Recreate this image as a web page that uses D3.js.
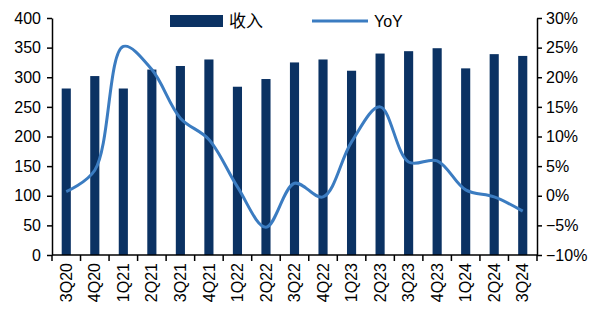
<!DOCTYPE html>
<html><head><meta charset="utf-8">
<script src="https://cdn.jsdelivr.net/npm/d3@7"></script>
<style>
body{margin:0;background:#fff;}
text{font-family:"Liberation Sans",Arial,sans-serif;fill:#000;}
</style></head>
<body><svg id="c" width="589" height="323"></svg>
<script>
const categories = ["3Q20","4Q20","1Q21","2Q21","3Q21","4Q21","1Q22","2Q22","3Q22","4Q22","1Q23","2Q23","3Q23","4Q23","1Q24","2Q24","3Q24"];
const revenue = [281,302,281,313,319,330,284,297,325,330,311,340,344,349,315,339,336];
const yoy = [0.7,4.3,25.2,21.3,13.1,9.5,1.5,-5.3,2.1,-0.2,9.1,15.0,5.7,5.9,1.0,-0.2,-2.6];
const leftTicks = [0,50,100,150,200,250,300,350,400];
const rightTicks = [-10,-5,0,5,10,15,20,25,30];
const seriesNames = ["收入","YoY"];

const barColor = "#0b3263", lineColor = "#3b7cc1";
const svg = d3.select("#c");
const L = 52, R = 537, T = 18, B = 255;

const x = d3.scaleBand().domain(categories).range([L, R]).paddingInner(0.68).paddingOuter(0.34);
const yl = d3.scaleLinear().domain([0, 400]).range([B, T]);
const yr = d3.scaleLinear().domain([-10, 30]).range([B, T]);

// bars
svg.append("g").selectAll("rect").data(categories).join("rect")
  .attr("x", d => x(d)).attr("width", x.bandwidth())
  .attr("y", (d,i) => yl(revenue[i])).attr("height", (d,i) => B - yl(revenue[i]))
  .attr("fill", barColor);

// line
const line = d3.line().x((d,i) => x(categories[i]) + x.bandwidth()/2).y(d => yr(d)).curve(d3.curveCatmullRom.alpha(0.5));
svg.append("path").datum(yoy).attr("d", line).attr("fill","none").attr("stroke", lineColor).attr("stroke-width", 3);

// left axis
const gl = svg.append("g").attr("transform", `translate(${L},0)`)
  .call(d3.axisLeft(yl).tickValues(leftTicks).tickSize(5).tickSizeOuter(0).tickPadding(6));
// right axis
const gr = svg.append("g").attr("transform", `translate(${R},0)`)
  .call(d3.axisRight(yr).tickValues(rightTicks).tickSize(5).tickSizeOuter(0).tickPadding(4).tickFormat(d => (d < 0 ? "\u2212" + Math.abs(d) : d) + "%"));
[gl, gr].forEach(g => {
  g.selectAll("text").style("font-size","16px").attr("font-family","Liberation Sans, Arial, sans-serif");
  g.selectAll("line,path").attr("stroke","#000").attr("stroke-width",1.5);
});

// x axis
const gx = svg.append("g");
gx.append("line").attr("x1", L).attr("x2", R).attr("y1", B).attr("y2", B).attr("stroke","#000").attr("stroke-width",1.5);
const bounds = categories.map(c => x(c) - x.step()*x.paddingInner()/2 ).concat([R]);
bounds[0] = L;
gx.selectAll("line.t").data(bounds).join("line").attr("class","t")
  .attr("x1", d => d).attr("x2", d => d).attr("y1", B).attr("y2", B + 6).attr("stroke","#000").attr("stroke-width",1.5);
gx.selectAll("text").data(categories).join("text")
  .attr("transform", d => `translate(${x(d) + x.bandwidth()/2},${B + 8}) rotate(-90)`)
  .attr("text-anchor","end").attr("dy","0.35em").style("font-size","16px").text(d => d);

// legend
const lg = svg.append("g");
lg.append("rect").attr("x",170).attr("y",15).attr("width",53).attr("height",12).attr("fill",barColor);
lg.append("text").attr("x",229).attr("y",21).attr("dy","0.35em").style("font-size","17px")
  .style("font-family","'Noto Sans CJK SC',sans-serif").text(seriesNames[0]);
lg.append("line").attr("x1",312).attr("x2",368).attr("y1",21).attr("y2",21).attr("stroke",lineColor).attr("stroke-width",3);
lg.append("text").attr("x",374).attr("y",21).attr("dy","0.35em").style("font-size","16px").text(seriesNames[1]);
</script></body></html>
